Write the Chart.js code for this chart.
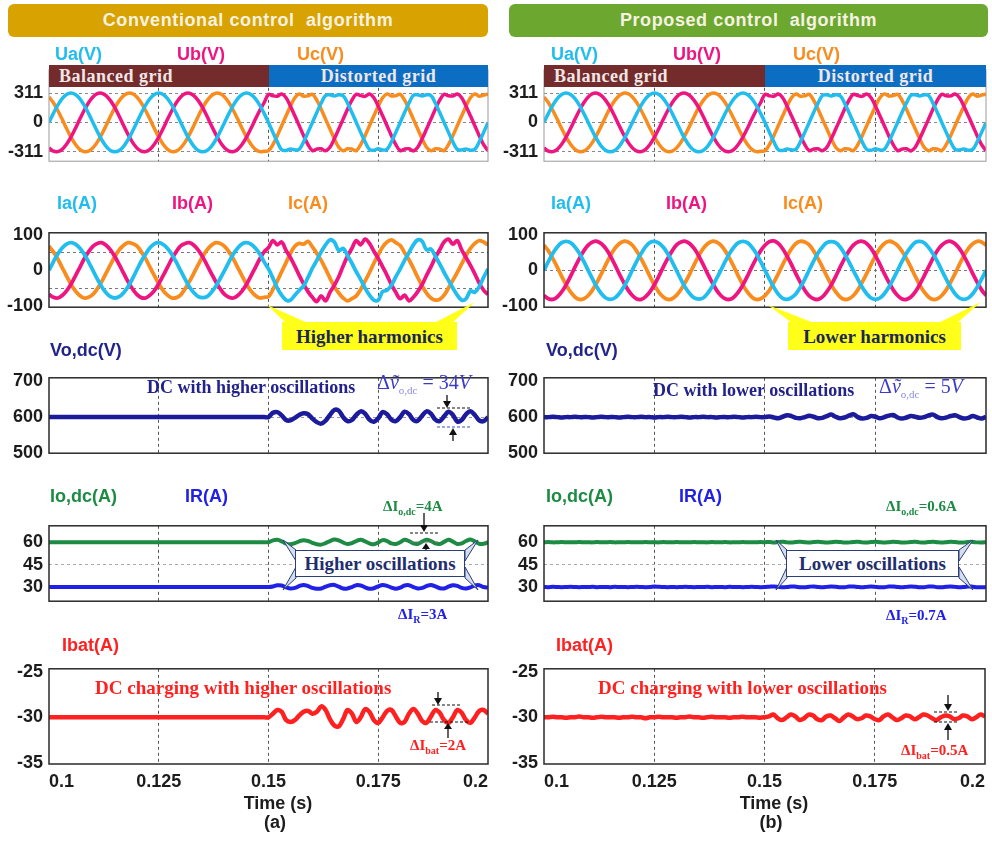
<!DOCTYPE html>
<html>
<head>
<meta charset="utf-8">
<script src="https://cdn.jsdelivr.net/npm/chart.js@4.4.1/dist/chart.umd.min.js"></script>
<style>
  html, body { margin: 0; padding: 0; background: #fff; }
  #stage { position: relative; width: 992px; height: 842px; overflow: hidden; background: #fff;
    font-family: Arial, "Liberation Sans", Helvetica, sans-serif; }
  #stage canvas { position: absolute; z-index: 1; }
  .lbl { position: absolute; white-space: nowrap; line-height: 1; z-index: 3; }
  .ax { font-weight: bold; font-size: 18px; }
  .sf { font-family: "Times New Roman", "Liberation Serif", serif; font-weight: bold; }
  .hdr { position: absolute; top: 4px; height: 33px; border-radius: 6px; color: #f6f2e2; font-weight: bold;
    font-size: 18px; letter-spacing: 0.6px; text-align: center; line-height: 33px; z-index: 3; }
  .band { position: absolute; top: 65px; height: 22px; line-height: 23px; color: #f1e6e6; font-size: 18px;
    letter-spacing: 0.5px; z-index: 3; }
  .box { position: absolute; z-index: 3; text-align: center; box-sizing: border-box; }
  .math { font-family: "Times New Roman", "Liberation Serif", serif; font-size: 20px; color: #3b3bc8; }
  .math sub { font-size: 11px; color: #8a8ae6; }
  .dl sub { font-size: 10px; }
  svg { position: absolute; left: 0; top: 0; z-index: 2; }
</style>
</head>
<body>
<div id="stage">
  <div class="hdr" style="left:8px;width:480px;background:#d8a300;">Conventional control&nbsp; algorithm</div>
  <div class="hdr" style="left:509px;width:479px;background:#6ca82f;">Proposed control&nbsp; algorithm</div>

  <div class="band sf" style="left:49px;width:220px;background:#732b2b;padding-left:10px;box-sizing:border-box;">Balanced grid</div>
  <div class="band sf" style="left:269px;width:219px;background:#0b6ec3;text-align:center;">Distorted grid</div>
  <div class="band sf" style="left:544px;width:221px;background:#732b2b;padding-left:10px;box-sizing:border-box;">Balanced grid</div>
  <div class="band sf" style="left:765px;width:221px;background:#0b6ec3;text-align:center;">Distorted grid</div>

  <div class="box sf" style="left:282px;top:322px;width:175px;height:28px;line-height:29px;background:#ffff1a;color:#1c2754;font-size:19px;">Higher harmonics</div>
  <div class="box sf" style="left:788px;top:322px;width:173px;height:28px;line-height:29px;background:#ffff1a;color:#1c2754;font-size:19px;">Lower harmonics</div>

  <div class="box sf" style="left:295px;top:550px;width:170px;height:27px;line-height:26px;background:#fff;border:1.5px solid #2a3f7a;color:#1f2f6e;font-size:19px;">Higher oscillations</div>
  <div class="box sf" style="left:786px;top:550px;width:173px;height:27px;line-height:26px;background:#fff;border:1.5px solid #2a3f7a;color:#1f2f6e;font-size:19px;">Lower oscillations</div>

  <svg width="992" height="842" xmlns="http://www.w3.org/2000/svg">
    <g fill="#ffff1a">
      <polygon points="267,305 286,323 308,323"/>
      <polygon points="475,302 452,323 434,323"/>
      <polygon points="768,305 792,323 814,323"/>
      <polygon points="981,302 957,323 938,323"/>
    </g>
    <g fill="#d6deee" stroke="#2a3f7a" stroke-width="1">
      <polygon points="283,540 296,550 296,561"/>
      <polygon points="283,590 296,578 296,567"/>
      <polygon points="478,540 465,550 465,561"/>
      <polygon points="478,590 465,578 465,567"/>
      <polygon points="776,540 787,550 787,561"/>
      <polygon points="776,590 787,578 787,567"/>
      <polygon points="973,540 959,550 959,561"/>
      <polygon points="973,590 959,578 959,567"/>
    </g>
    <g stroke-width="1.2" fill="none">
      <line x1="437" y1="408" x2="470" y2="408" stroke="#111" stroke-dasharray="3,2"/>
      <line x1="437" y1="427" x2="470" y2="427" stroke="#3355cc" stroke-dasharray="3,2"/>
      <line x1="410" y1="533" x2="440" y2="533" stroke="#111" stroke-dasharray="3,2"/>
      <line x1="410" y1="542" x2="440" y2="542" stroke="#777" stroke-dasharray="3,2"/>
      <line x1="432" y1="705" x2="462" y2="705" stroke="#111" stroke-dasharray="3,2"/>
      <line x1="430" y1="722" x2="470" y2="722" stroke="#111" stroke-dasharray="3,2"/>
      <line x1="934" y1="712" x2="958" y2="712" stroke="#111" stroke-dasharray="3,2"/>
      <line x1="934" y1="722" x2="958" y2="722" stroke="#111" stroke-dasharray="3,2"/>
    </g>
    <g stroke="#111" stroke-width="1.3">
      <line x1="447" y1="395" x2="447" y2="402"/>
      <line x1="453" y1="441" x2="453" y2="434"/>
      <line x1="424" y1="513" x2="424" y2="526"/>
      <line x1="426" y1="552" x2="426" y2="548"/>
      <line x1="438" y1="692" x2="438" y2="699"/>
      <line x1="448" y1="738" x2="448" y2="728"/>
      <line x1="948" y1="695" x2="948" y2="705"/>
      <line x1="948" y1="740" x2="948" y2="729"/>
    </g>
    <g fill="#111">
      <polygon points="443,401 451,401 447,408"/>
      <polygon points="449,435 457,435 453,428"/>
      <polygon points="420,525 428,525 424,532"/>
      <polygon points="422,549 430,549 426,543"/>
      <polygon points="434,698 442,698 438,705"/>
      <polygon points="444,729 452,729 448,723"/>
      <polygon points="944,704 952,704 948,711"/>
      <polygon points="944,730 952,730 948,723"/>
    </g>
  </svg>
</div>

<script>
// sample times (s), 1 ms step
const t = [
  0.100, 0.101, 0.102, 0.103, 0.104, 0.105, 0.106, 0.107, 0.108, 0.109,
  0.110, 0.111, 0.112, 0.113, 0.114, 0.115, 0.116, 0.117, 0.118, 0.119,
  0.120, 0.121, 0.122, 0.123, 0.124, 0.125, 0.126, 0.127, 0.128, 0.129,
  0.130, 0.131, 0.132, 0.133, 0.134, 0.135, 0.136, 0.137, 0.138, 0.139,
  0.140, 0.141, 0.142, 0.143, 0.144, 0.145, 0.146, 0.147, 0.148, 0.149,
  0.150, 0.151, 0.152, 0.153, 0.154, 0.155, 0.156, 0.157, 0.158, 0.159,
  0.160, 0.161, 0.162, 0.163, 0.164, 0.165, 0.166, 0.167, 0.168, 0.169,
  0.170, 0.171, 0.172, 0.173, 0.174, 0.175, 0.176, 0.177, 0.178, 0.179,
  0.180, 0.181, 0.182, 0.183, 0.184, 0.185, 0.186, 0.187, 0.188, 0.189,
  0.190, 0.191, 0.192, 0.193, 0.194, 0.195, 0.196, 0.197, 0.198, 0.199,
  0.200
];
const xTicks = [0.1, 0.125, 0.15, 0.175, 0.2];
const xTickLabels = ['0.1', '0.125', '0.15', '0.175', '0.2'];

// grid voltages (same in both cases)
const ua = [
  0, 96, 183, 252, 296, 311, 296, 252, 183, 96,
  0, -96, -183, -252, -296, -311, -296, -252, -183, -96,
  0, 96, 183, 252, 296, 311, 296, 252, 183, 96,
  0, -96, -183, -252, -296, -311, -296, -252, -183, -96,
  0, 96, 183, 252, 296, 311, 296, 252, 183, 96,
  0, -105, -205, -288, -296, -280, -290, -285, -205, -105,
  0, 105, 205, 285, 294, 280, 292, 283, 205, 105,
  0, -105, -205, -286, -294, -278, -292, -285, -205, -105,
  0, 105, 205, 288, 292, 280, 292, 285, 205, 105,
  0, -105, -205, -285, -292, -280, -294, -285, -205, -105,
  0
];
const ub = [
  -269, -304, -309, -284, -231, -156, -65, 33, 126, 208,
  269, 304, 309, 284, 231, 156, 65, -33, -126, -208,
  -269, -304, -309, -284, -231, -156, -65, 33, 126, 208,
  269, 304, 309, 284, 231, 156, 65, -33, -126, -208,
  -269, -304, -309, -284, -231, -156, -65, 33, 126, 208,
  298, 282, 278, 300, 262, 172, 70, -35, -140, -235,
  -298, -282, -278, -300, -262, -172, -70, 35, 140, 235,
  298, 284, 276, 300, 262, 172, 70, -35, -140, -235,
  -298, -282, -278, -302, -262, -172, -70, 35, 140, 235,
  298, 282, 280, 300, 262, 172, 70, -35, -140, -235,
  -298
];
const uc = [
  269, 208, 126, 33, -65, -156, -231, -284, -309, -304,
  -269, -208, -126, -33, 65, 156, 231, 284, 309, 304,
  269, 208, 126, 33, -65, -156, -231, -284, -309, -304,
  -269, -208, -126, -33, 65, 156, 231, 284, 309, 304,
  269, 208, 126, 33, -65, -156, -231, -284, -309, -304,
  -298, -235, -140, -35, 70, 172, 262, 300, 278, 282,
  298, 235, 140, 35, -70, -172, -262, -300, -278, -282,
  -298, -235, -140, -35, 70, 172, 262, 302, 280, 284,
  298, 235, 140, 35, -70, -172, -262, -300, -278, -282,
  -298, -235, -140, -35, 70, 172, 262, 300, 278, 290,
  298
];

// grid currents, conventional control
const iaConv = [
  0, 24, 46, 63, 74, 78, 74, 63, 46, 24,
  0, -24, -46, -63, -74, -78, -74, -63, -46, -24,
  1, 25, 46, 64, 75, 78, 73, 62, 45, 23,
  -1, -25, -47, -63, -74, -77, -74, -62, -45, -23,
  0, 24, 46, 63, 75, 78, 74, 63, 46, 24,
  4, -22, -50, -70, -84, -84, -70, -56, -44, -20,
  6, 28, 52, 72, 86, 80, 56, 62, 42, 20,
  -4, -26, -50, -70, -84, -84, -60, -56, -42, -18,
  4, 28, 50, 72, 86, 82, 58, 60, 40, 18,
  -6, -28, -50, -70, -84, -80, -58, -62, -46, -20,
  4
];
const ibConv = [
  -68, -76, -78, -71, -58, -39, -16, 8, 32, 52,
  68, 76, 78, 71, 58, 39, 16, -8, -32, -52,
  -68, -77, -78, -70, -57, -38, -15, 9, 33, 53,
  69, 76, 78, 71, 57, 38, 15, -9, -32, -52,
  -68, -76, -78, -71, -58, -39, -16, 8, 32, 52,
  64, 84, 72, 80, 56, 36, 12, -14, -38, -60,
  -76, -88, -72, -86, -62, -42, -18, 12, 40, 62,
  84, 72, 88, 76, 54, 34, 10, -14, -40, -62,
  -80, -70, -86, -76, -60, -40, -14, 10, 36, 58,
  80, 88, 74, 84, 58, 36, 14, -10, -36, -56,
  -68
];
const icConv = [
  68, 52, 32, 8, -16, -39, -58, -71, -78, -76,
  -68, -52, -32, -8, 16, 39, 58, 71, 78, 76,
  69, 53, 33, 9, -15, -38, -57, -70, -78, -77,
  -69, -52, -31, -8, 16, 39, 58, 71, 78, 76,
  68, 52, 32, 8, -16, -39, -58, -71, -78, -76,
  -74, -54, -30, -4, 22, 48, 68, 76, 74, 82,
  66, 48, 28, 4, -22, -46, -64, -78, -86, -80,
  -72, -54, -30, -6, 20, 44, 66, 80, 86, 78,
  70, 50, 30, 6, -20, -44, -64, -78, -84, -82,
  -70, -50, -28, -6, 18, 42, 62, 76, 84, 80,
  72
];

// grid currents, proposed control
const iaProp = [
  0, 25, 48, 66, 78, 82, 78, 66, 48, 25,
  0, -25, -48, -66, -78, -82, -78, -66, -48, -25,
  1, 26, 48, 67, 79, 82, 77, 65, 47, 24,
  -1, -26, -49, -66, -78, -81, -78, -65, -47, -24,
  0, 25, 48, 66, 78, 82, 78, 66, 48, 25,
  0, -25, -48, -67, -79, -82, -77, -66, -48, -25,
  1, 26, 49, 66, 78, 81, 78, 66, 47, 24,
  -1, -25, -48, -66, -78, -82, -78, -66, -48, -25,
  0, 25, 48, 66, 79, 82, 78, 65, 47, 25,
  0, -25, -48, -66, -78, -82, -78, -66, -48, -25,
  0
];
const ibProp = [
  -71, -80, -82, -75, -61, -41, -17, 9, 33, 55,
  71, 80, 82, 75, 61, 41, 17, -9, -33, -55,
  -71, -81, -82, -74, -60, -40, -16, 10, 34, 55,
  72, 80, 82, 75, 61, 41, 17, -9, -33, -55,
  -71, -80, -82, -75, -61, -41, -17, 9, 33, 55,
  71, 81, 83, 76, 61, 40, 16, -10, -34, -56,
  -72, -80, -82, -75, -60, -41, -17, 9, 33, 55,
  71, 80, 82, 76, 62, 41, 17, -9, -33, -55,
  -71, -81, -82, -75, -61, -40, -16, 9, 34, 56,
  71, 80, 82, 75, 61, 41, 17, -9, -33, -55,
  -71
];
const icProp = [
  71, 55, 33, 9, -17, -41, -61, -75, -82, -80,
  -71, -55, -33, -9, 17, 41, 61, 75, 82, 80,
  71, 54, 32, 8, -18, -42, -62, -75, -82, -80,
  -70, -54, -33, -9, 17, 41, 61, 75, 82, 80,
  71, 55, 33, 9, -17, -41, -61, -75, -82, -80,
  -71, -56, -34, -10, 16, 40, 61, 76, 82, 80,
  72, 55, 33, 9, -17, -41, -61, -75, -82, -80,
  -71, -55, -33, -9, 17, 41, 62, 76, 82, 79,
  70, 54, 33, 9, -17, -41, -61, -75, -82, -80,
  -71, -55, -33, -9, 17, 41, 61, 75, 82, 80,
  71
];

// dc-link voltage
const vdcConv = [
  600, 600, 600, 600, 600, 600, 600, 600, 600, 600,
  600, 600, 600, 600, 600, 600, 600, 600, 600, 600,
  600, 600, 600, 600, 600, 600, 600, 600, 600, 600,
  600, 600, 600, 600, 600, 600, 600, 600, 600, 600,
  600, 600, 600, 600, 600, 600, 600, 600, 600, 600,
  600, 612, 614, 605, 592, 591, 598, 606, 611, 608,
  596, 586, 582, 590, 606, 620, 618, 600, 589, 592,
  606, 616, 610, 593, 587, 597, 614, 608, 593, 589,
  600, 615, 608, 592, 590, 604, 616, 610, 593, 589,
  602, 615, 606, 588, 592, 608, 616, 606, 591, 589,
  600
];
const vdcProp = [
  600, 600, 601, 600, 599, 600, 600, 601, 600, 600,
  600, 599, 600, 601, 600, 600, 600, 599, 600, 601,
  600, 600, 601, 600, 600, 599, 600, 600, 601, 600,
  600, 601, 600, 599, 600, 600, 601, 600, 600, 599,
  600, 600, 600, 601, 600, 599, 600, 600, 601, 600,
  600, 602, 599, 597, 601, 605, 603, 598, 597, 600,
  604, 601, 597, 598, 603, 607, 601, 597, 599, 604,
  608, 600, 596, 598, 603, 601, 597, 600, 604, 606,
  599, 596, 599, 603, 601, 598, 600, 605, 607, 600,
  597, 599, 603, 605, 600, 596, 598, 603, 599, 596,
  601
];

// dc output current and load current
const ioConv = [
  60, 60, 60, 60, 60, 60, 60, 60, 60, 60,
  60, 60, 60, 60, 60, 60, 60, 60, 60, 60,
  60, 60, 60, 60, 60, 60, 60, 60, 60, 60,
  60, 60, 60, 60, 60, 60, 60, 60, 60, 60,
  60, 60, 60, 60, 60, 60, 60, 60, 60, 60,
  60, 61.2, 61.6, 60.6, 59.0, 58.6, 59.4, 60.6, 61.4, 60.8,
  59.6, 58.6, 58.4, 59.4, 60.8, 61.8, 61.2, 59.8, 58.8, 59.4,
  60.8, 61.6, 60.6, 59.2, 58.6, 59.8, 61.4, 60.8, 59.2, 58.8,
  60.0, 61.6, 60.8, 59.2, 58.8, 60.4, 61.6, 60.8, 59.2, 58.8,
  60.2, 61.6, 60.4, 58.8, 59.2, 60.8, 61.8, 60.6, 59.0, 59.0,
  60.0
];
const irConv = [
  30, 30, 30, 30, 30, 30, 30, 30, 30, 30,
  30, 30, 30, 30, 30, 30, 30, 30, 30, 30,
  30, 30, 30, 30, 30, 30, 30, 30, 30, 30,
  30, 30, 30, 30, 30, 30, 30, 30, 30, 30,
  30, 30, 30, 30, 30, 30, 30, 30, 30, 30,
  30, 30.4, 31.2, 31.0, 29.8, 29.0, 29.4, 30.6, 31.4, 30.6,
  29.4, 28.8, 29.0, 30.2, 31.2, 31.4, 30.2, 29.0, 29.0, 30.0,
  31.2, 31.0, 29.8, 28.8, 29.2, 30.4, 31.4, 30.8, 29.6, 28.8,
  29.6, 31.0, 31.2, 30.0, 29.0, 29.4, 30.6, 31.4, 30.4, 29.2,
  29.0, 30.2, 31.2, 30.8, 29.4, 29.0, 29.8, 31.0, 31.2, 30.0,
  29.6
];
const ioProp = [
  60, 60.1, 59.9, 60, 60.1, 60, 59.9, 60, 60.1, 60,
  60, 59.9, 60.1, 60, 60, 60.1, 59.9, 60, 60, 60.1,
  60, 59.9, 60, 60.1, 60, 60, 59.9, 60.1, 60, 60,
  60.1, 60, 59.9, 60, 60.1, 60, 60, 59.9, 60.1, 60,
  60, 60.1, 59.9, 60, 60, 60.1, 60, 59.9, 60, 60.1,
  60, 60.2, 59.8, 60.1, 60.3, 59.9, 59.8, 60.2, 60.3, 60,
  59.8, 60.1, 60.3, 60, 59.8, 60, 60.3, 60.1, 59.8, 59.9,
  60.2, 60.3, 59.9, 59.8, 60.1, 60.3, 60, 59.8, 60, 60.3,
  60.1, 59.8, 59.9, 60.2, 60.3, 59.9, 59.8, 60.1, 60.3, 60,
  59.8, 60, 60.3, 60.1, 59.8, 59.9, 60.2, 60.2, 59.9, 59.8,
  60
];
const irProp = [
  30, 29.9, 30.1, 30, 29.9, 30, 30.1, 30, 29.9, 30,
  30, 30.1, 29.9, 30, 30, 29.9, 30.1, 30, 30, 29.9,
  30, 30.1, 30, 29.9, 30, 30.3, 30.1, 30, 29.9, 30,
  29.9, 30, 30.1, 30, 29.9, 30, 30, 30.1, 29.9, 30,
  30, 29.9, 30.1, 30, 30, 29.9, 30, 30.1, 30, 29.9,
  30, 30.2, 30.4, 30.1, 29.8, 30, 30.4, 30.2, 29.9, 29.8,
  30.2, 30.4, 30, 29.8, 30.1, 30.4, 30.2, 29.8, 29.9, 30.3,
  30.4, 30, 29.8, 30.1, 30.4, 30.1, 29.8, 29.9, 30.3, 30.4,
  30, 29.8, 30.1, 30.4, 30.2, 29.8, 29.9, 30.3, 30.3, 29.9,
  29.8, 30.2, 30.4, 30.1, 29.8, 30, 30.4, 30.2, 29.9, 29.8,
  30
];

// battery current
const ibatConv = [
  -30, -30, -30, -30, -30, -30, -30, -30, -30, -30,
  -30, -30, -30, -30, -30, -30, -30, -30, -30, -30,
  -30, -30, -30, -30, -30, -30, -30, -30, -30, -30,
  -30, -30, -30, -30, -30, -30, -30, -30, -30, -30,
  -30, -30, -30, -30, -30, -30, -30, -30, -30, -30,
  -30, -29.6, -29.2, -29.4, -30.3, -30.5, -30.3, -29.8, -29.4, -29.3,
  -29.6, -29.4, -28.8, -29.2, -30.2, -30.9, -31.0, -30.2, -29.2, -29.6,
  -30.5, -30.0, -29.1, -29.4, -30.3, -30.6, -30.0, -29.3, -29.2, -29.9,
  -30.6, -30.5, -29.6, -29.1, -29.6, -30.4, -30.6, -29.9, -29.2, -29.5,
  -30.3, -30.6, -30.0, -29.2, -29.5, -30.3, -30.6, -30.0, -29.3, -29.2,
  -29.6
];
const ibatProp = [
  -30, -30, -29.95, -30, -30, -30.05, -30, -30, -29.9, -30,
  -30, -30.05, -30, -29.95, -30, -30, -30, -30.05, -30, -30,
  -29.95, -30, -30, -30.1, -30, -30, -29.95, -30, -30, -30,
  -30.05, -30, -30, -29.9, -30, -30, -30.05, -30, -29.95, -30,
  -30, -30, -30.05, -30, -30, -29.95, -30, -30, -30, -30.05,
  -30, -29.9, -29.7, -30.1, -30.3, -30.0, -29.7, -29.9, -30.3, -30.1,
  -29.7, -29.8, -30.2, -30.3, -29.9, -29.8, -30.1, -30.4, -30.0, -29.7,
  -29.9, -30.2, -30.1, -29.8, -29.9, -30.2, -30.3, -29.9, -29.7, -30.0,
  -30.3, -30.1, -29.8, -29.9, -30.2, -30.0, -29.7, -29.8, -30.1, -30.3,
  -30.0, -29.8, -29.9, -30.2, -30.1, -29.8, -29.9, -30.2, -30.0, -29.7,
  -29.9
];

const CYAN = '#21bdef', MAGENTA = '#ef1580', ORANGE = '#f98c1e';
const NAVY = '#1b1b9c', GREEN = '#1e8b44', BLUE = '#2020e6', RED = '#ff2020';

const stage = document.getElementById('stage');
const FONT = 'Arial, "Liberation Sans", Helvetica, sans-serif';
const tickFont = { family: FONT, size: 18, weight: 'bold' };

// border around each plot area
const framePlugin = {
  id: 'frame',
  afterDraw(chart, args, opts) {
    const a = chart.chartArea, c = chart.ctx;
    c.save();
    c.strokeStyle = opts.color;
    c.lineWidth = opts.width;
    c.strokeRect(a.left, a.top, a.right - a.left, a.bottom - a.top);
    c.restore();
  }
};

function makePanel(col, p) {
  const padT = 12;
  const xH = p.showX ? 30 : 0;
  const padB = p.showX ? 0 : 12;
  const cv = document.createElement('canvas');
  cv.width = 496;
  cv.height = padT + p.h + xH + padB;
  cv.style.left = (col === 0 ? 0 : 496) + 'px';
  cv.style.top = (p.top - padT) + 'px';
  stage.appendChild(cv);

  const yAll = p.yLabels.concat(p.yGrid.filter(v => !p.yLabels.includes(v))).sort((a, b) => a - b);

  new Chart(cv, {
    type: 'line',
    data: {
      datasets: p.series.map(s => ({
        data: t.map((x, i) => ({ x: x, y: s.data[i] })),
        borderColor: s.color,
        borderWidth: s.w,
        pointRadius: 0,
        tension: 0.35,
        fill: false
      }))
    },
    options: {
      responsive: false,
      animation: false,
      devicePixelRatio: 1,
      layout: { padding: { top: padT, bottom: padB, left: 0, right: col === 0 ? 8 : 6 } },
      plugins: {
        legend: { display: false },
        tooltip: { enabled: false },
        frame: { color: p.frame || '#2a2a2a', width: p.frameW || 1.5 }
      },
      scales: {
        x: {
          type: 'linear',
          min: 0.1,
          max: 0.2,
          afterBuildTicks: s => { s.ticks = xTicks.map(v => ({ value: v })); },
          afterFit: s => { s.height = xH; },
          grid: {
            drawTicks: false,
            lineWidth: 1,
            color: c => (c.tick && (c.tick.value === 0.1 || c.tick.value === 0.2)) ? 'rgba(0,0,0,0)' : '#555'
          },
          border: { display: false, dash: [3, 3] },
          ticks: {
            display: !!p.showX,
            autoSkip: false,
            maxRotation: 0,
            align: 'inner',
            padding: 7,
            color: '#1c1c1c',
            font: tickFont,
            callback: (v, i) => xTickLabels[i]
          }
        },
        y: {
          min: p.yMin,
          max: p.yMax,
          afterBuildTicks: s => { s.ticks = yAll.map(v => ({ value: v })); },
          afterFit: s => { s.width = col === 0 ? 49 : 48; },
          grid: {
            drawTicks: false,
            lineWidth: 1,
            color: c => (c.tick && p.yGrid.includes(c.tick.value)) ? (p.gridColor || '#777') : 'rgba(0,0,0,0)'
          },
          border: { display: false, dash: [3, 3] },
          ticks: {
            autoSkip: false,
            padding: 6,
            color: '#1c1c1c',
            font: tickFont,
            callback: v => p.yLabels.includes(v) ? String(v) : ''
          }
        }
      }
    },
    plugins: [framePlugin]
  });
}

function label(html, x, y, cls, color, center, size) {
  const d = document.createElement('div');
  d.className = 'lbl ' + cls;
  d.innerHTML = html;
  d.style.left = x + 'px';
  d.style.top = y + 'px';
  d.style.transform = center ? 'translate(-50%, -50%)' : 'translateY(-50%)';
  if (color) d.style.color = color;
  if (size) d.style.fontSize = size + 'px';
  stage.appendChild(d);
}

const cases = [
  { ia: iaConv, ib: ibConv, ic: icConv, vdc: vdcConv, io: ioConv, ir: irConv, ibat: ibatConv, iGrid: [-50, 50] },
  { ia: iaProp, ib: ibProp, ic: icProp, vdc: vdcProp, io: ioProp, ir: irProp, ibat: ibatProp, iGrid: [0] }
];

cases.forEach((c, col) => {
  makePanel(col, {
    top: 65, h: 101, yMin: -410, yMax: 557,
    yLabels: [-311, 0, 311], yGrid: [-311, 0, 311], gridColor: '#888', frame: '#999', frameW: 1,
    series: [
      { data: ua, color: CYAN, w: 3.5 },
      { data: ub, color: MAGENTA, w: 3.5 },
      { data: uc, color: ORANGE, w: 3.5 }
    ]
  });
  makePanel(col, {
    top: 228, h: 84, yMin: -104, yMax: 106,
    yLabels: [-100, 0, 100], yGrid: c.iGrid, gridColor: '#777',
    series: [
      { data: c.ia, color: CYAN, w: 3.8 },
      { data: c.ib, color: MAGENTA, w: 3.8 },
      { data: c.ic, color: ORANGE, w: 3.8 }
    ]
  });
  makePanel(col, {
    top: 373, h: 85, yMin: 500, yMax: 709,
    yLabels: [500, 600, 700], yGrid: [600], gridColor: '#999',
    series: [{ data: c.vdc, color: NAVY, w: 4.5 }]
  });
  makePanel(col, {
    top: 521, h: 85, yMin: 20.5, yMax: 71,
    yLabels: [30, 45, 60], yGrid: [45], gridColor: '#aaa',
    series: [
      { data: c.io, color: GREEN, w: 4 },
      { data: c.ir, color: BLUE, w: 4 }
    ]
  });
  makePanel(col, {
    top: 664, h: 100, yMin: -35.1, yMax: -24.7, showX: true,
    yLabels: [-35, -30, -25], yGrid: [],
    series: [{ data: c.ibat, color: RED, w: 4.5 }]
  });
});

// signal names
label('Ua(V)', 55, 54, 'ax', CYAN);
label('Ub(V)', 177, 54, 'ax', MAGENTA);
label('Uc(V)', 297, 54, 'ax', ORANGE);
label('Ua(V)', 551, 54, 'ax', CYAN);
label('Ub(V)', 673, 54, 'ax', MAGENTA);
label('Uc(V)', 793, 54, 'ax', ORANGE);
label('Ia(A)', 57, 203, 'ax', CYAN);
label('Ib(A)', 172, 203, 'ax', MAGENTA);
label('Ic(A)', 288, 203, 'ax', ORANGE);
label('Ia(A)', 551, 203, 'ax', CYAN);
label('Ib(A)', 666, 203, 'ax', MAGENTA);
label('Ic(A)', 783, 203, 'ax', ORANGE);
label('Vo,dc(V)', 50, 350, 'ax', '#23238e');
label('Vo,dc(V)', 546, 350, 'ax', '#23238e');
label('Io,dc(A)', 50, 496, 'ax', GREEN);
label('IR(A)', 185, 496, 'ax', BLUE);
label('Io,dc(A)', 546, 496, 'ax', GREEN);
label('IR(A)', 679, 496, 'ax', BLUE);
label('Ibat(A)', 62, 645, 'ax', RED);
label('Ibat(A)', 556, 645, 'ax', RED);

// annotations
label('DC with higher oscillations', 147, 387, 'sf', '#22228a', false, 18);
label('DC with lower oscillations', 653, 390, 'sf', '#22228a', false, 18);
label('&Delta;<i>&#7805;</i><sub>o,dc</sub> = 34<i>V</i>', 377, 384, 'math', null);
label('&Delta;<i>&#7805;</i><sub>o,dc</sub> = 5<i>V</i>', 879, 388, 'math', null);

label('&Delta;I<sub>o,dc</sub>=4A', 383, 508, 'sf dl', GREEN, false, 15);
label('&Delta;I<sub>R</sub>=3A', 398, 616, 'sf dl', BLUE, false, 15);
label('&Delta;I<sub>o,dc</sub>=0.6A', 886, 508, 'sf dl', GREEN, false, 15);
label('&Delta;I<sub>R</sub>=0.7A', 886, 617, 'sf dl', BLUE, false, 15);
label('&Delta;I<sub>bat</sub>=2A', 410, 747, 'sf dl', RED, false, 15);
label('&Delta;I<sub>bat</sub>=0.5A', 901, 752, 'sf dl', RED, false, 15);

label('DC charging with higher oscillations', 95, 687, 'sf', RED, false, 19);
label('DC charging with lower oscillations', 598, 687, 'sf', RED, false, 19);

label('Time (s)', 278, 803, 'ax', '#1c1c1c', true);
label('(a)', 275, 822, 'ax', '#1c1c1c', true);
label('Time (s)', 774, 803, 'ax', '#1c1c1c', true);
label('(b)', 771, 822, 'ax', '#1c1c1c', true);
</script>
</body>
</html>
